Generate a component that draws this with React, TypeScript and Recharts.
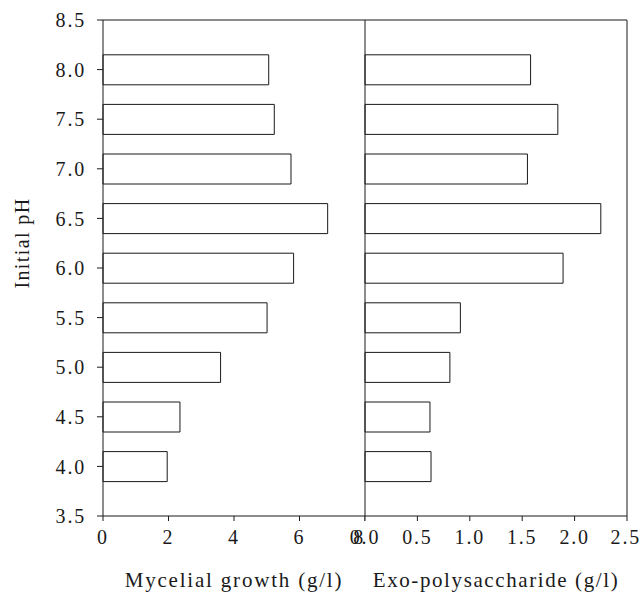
import React from "react";
import {
  BarChart,
  Bar,
  XAxis,
  YAxis,
  ReferenceLine,
  Label,
} from "recharts";

const phLevels = [4.0, 4.5, 5.0, 5.5, 6.0, 6.5, 7.0, 7.5, 8.0];
const myceliaGrowth = [1.96, 2.35, 3.59, 5.01, 5.82, 6.86, 5.74, 5.23, 5.06];
const exoPolysaccharide = [0.63, 0.62, 0.81, 0.91, 1.89, 2.25, 1.55, 1.84, 1.58];

const phTicks = [3.5, 4.0, 4.5, 5.0, 5.5, 6.0, 6.5, 7.0, 7.5, 8.0, 8.5];
const growthTicks = [0, 2, 4, 6, 8];
const epsTicks = [0, 0.5, 1.0, 1.5, 2.0, 2.5];

const data = phLevels.map((ph, i) => ({
  ph,
  growth: myceliaGrowth[i],
  eps: exoPolysaccharide[i],
}));

const INK = "#1a1a1a";
const FONT = "Liberation Serif";
const tickStyle = {
  fill: INK,
  fontSize: 20,
  fontFamily: FONT,
  letterSpacing: 1.8,
};

const PhLabel = (props: any) => {
  const { viewBox } = props;
  const cy = viewBox.y + viewBox.height / 2 - 25;
  return (
    <text
      x={22}
      y={cy}
      transform={`rotate(-90, 22, ${cy})`}
      textAnchor="middle"
      dominantBaseline="central"
      fill={INK}
      fontSize={20}
      fontFamily={FONT}
      letterSpacing={1.4}
    >
      Initial pH
    </text>
  );
};

export default function App() {
  return (
    <div
      style={{
        position: "absolute",
        left: 0,
        top: 0,
        width: 641,
        height: 595,
        background: "#fff",
        fontFamily: FONT,
      }}
    >
      <div style={{ position: "absolute", left: 0, top: 0 }}>
        <BarChart
          width={365}
          height={595}
          data={data}
          layout="vertical"
          margin={{ top: 20, right: 0, left: 63, bottom: 9 }}
        >
          <YAxis
            type="number"
            dataKey="ph"
            domain={[3.5, 8.5]}
            ticks={phTicks}
            reversed
            tickFormatter={(v: number) => v.toFixed(1)}
            width={40}
            stroke={INK}
            tickSize={6}
            tickMargin={11}
            tick={tickStyle}
            label={<Label content={<PhLabel />} />}
          />
          <XAxis
            type="number"
            domain={[0, 8]}
            ticks={growthTicks}
            height={70}
            stroke={INK}
            tickSize={5}
            tickMargin={9}
            tick={tickStyle}
          >
            <Label
              value="Mycelial growth (g/l)"
              position="insideBottom"
              offset={-1}
              fill={INK}
              fontSize={21}
              fontFamily={FONT}
              letterSpacing={1.8}
            />
          </XAxis>
          <ReferenceLine y={8.5} stroke={INK} />
          <Bar
            dataKey="growth"
            barSize={30}
            fill="#fff"
            stroke={INK}
            strokeWidth={1}
            isAnimationActive={false}
          />
        </BarChart>
      </div>
      <div style={{ position: "absolute", left: 325, top: 0 }}>
        <BarChart
          width={316}
          height={595}
          data={data}
          layout="vertical"
          margin={{ top: 20, right: 14, left: 0, bottom: 9 }}
        >
          <YAxis
            type="number"
            dataKey="ph"
            domain={[3.5, 8.5]}
            ticks={phTicks}
            reversed
            width={40}
            stroke={INK}
            tick={false}
            tickLine={false}
          />
          <XAxis
            type="number"
            domain={[0, 2.5]}
            ticks={epsTicks}
            tickFormatter={(v: number) => v.toFixed(1)}
            height={70}
            stroke={INK}
            tickSize={5}
            tickMargin={9}
            tick={tickStyle}
          >
            <Label
              value="Exo-polysaccharide (g/l)"
              position="insideBottom"
              offset={-1}
              fill={INK}
              fontSize={21}
              fontFamily={FONT}
              letterSpacing={1.6}
            />
          </XAxis>
          <ReferenceLine y={8.5} stroke={INK} />
          <ReferenceLine x={2.5} stroke={INK} />
          <Bar
            dataKey="eps"
            barSize={30}
            fill="#fff"
            stroke={INK}
            strokeWidth={1}
            isAnimationActive={false}
          />
        </BarChart>
      </div>
    </div>
  );
}
